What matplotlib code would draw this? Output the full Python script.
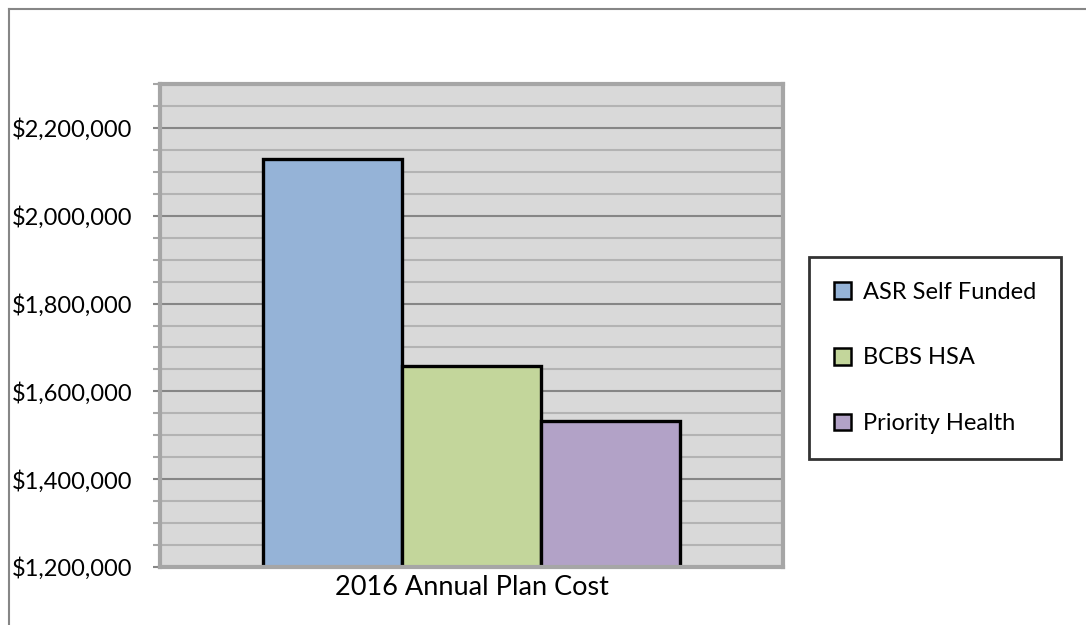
import matplotlib.pyplot as plt
from matplotlib.ticker import MultipleLocator, FuncFormatter
from matplotlib.lines import Line2D
from matplotlib.patches import Patch

plt.rcParams['font.family'] = ['Lato', 'DejaVu Sans']

category = "2016 Annual Plan Cost"
plans = ["ASR Self Funded", "BCBS HSA", "Priority Health"]
costs = [2129000, 1658000, 1533000]
colors = ["#95B3D7", "#C3D69B", "#B2A2C7"]

fig = plt.figure(figsize=(10.86, 6.25), dpi=100)
ax = fig.add_axes([160 / 1086, 1 - 567 / 625, 623 / 1086, 483 / 625])
ax.set_facecolor("#D9D9D9")

bw = 139 / 623
offsets = [-bw, 0, bw]
for off, c, col, lab in zip(offsets, costs, colors, plans):
    ax.bar(off, c - 1200000, bottom=1200000, width=bw, color=col,
           edgecolor="black", linewidth=2.4, label=lab, zorder=3)

ax.set_xlim(-0.5, 0.5)
ax.set_ylim(1200000, 2300000)
ax.yaxis.set_major_locator(MultipleLocator(200000))
ax.yaxis.set_minor_locator(MultipleLocator(50000))
ax.yaxis.set_major_formatter(FuncFormatter(lambda v, p: "${:,.0f}".format(v)))
ax.grid(which="major", axis="y", color="#868686", linewidth=1.5, zorder=1)
ax.grid(which="minor", axis="y", color="#B3B3B3", linewidth=1.5, zorder=1)
ax.set_xticks([0])
ax.set_xticklabels([category], fontsize=19.5)
ax.tick_params(axis="x", length=0, pad=6)
ax.tick_params(axis="y", which="major", length=5, width=1.5, color="#868686",
               labelsize=17, pad=15)
ax.tick_params(axis="y", which="minor", length=5, width=1.5, color="#A6A6A6")
for s in ax.spines.values():
    s.set_color("#A6A6A6")
    s.set_linewidth(3)
    s.set_zorder(4)

handles = [Patch(facecolor=col, edgecolor="black", linewidth=1.8, label=lab)
           for col, lab in zip(colors, plans)]
leg = fig.legend(handles=handles, loc="center",
                 bbox_to_anchor=(935 / 1086, 1 - 358 / 625),
                 fontsize=17, frameon=True, fancybox=False, edgecolor="black",
                 handlelength=0.7, handleheight=0.7, handletextpad=0.5,
                 labelspacing=1.9, borderpad=1.05, borderaxespad=0)
leg.get_frame().set_linewidth(2)

fig.add_artist(Line2D([8.5 / 1086, 8.5 / 1086], [0, 1 - 9 / 625],
                      color="#868686", linewidth=1.5))
fig.add_artist(Line2D([8.5 / 1086, 1], [1 - 9 / 625, 1 - 9 / 625],
                      color="#868686", linewidth=1.5))

fig.savefig("out.png", dpi=100)
